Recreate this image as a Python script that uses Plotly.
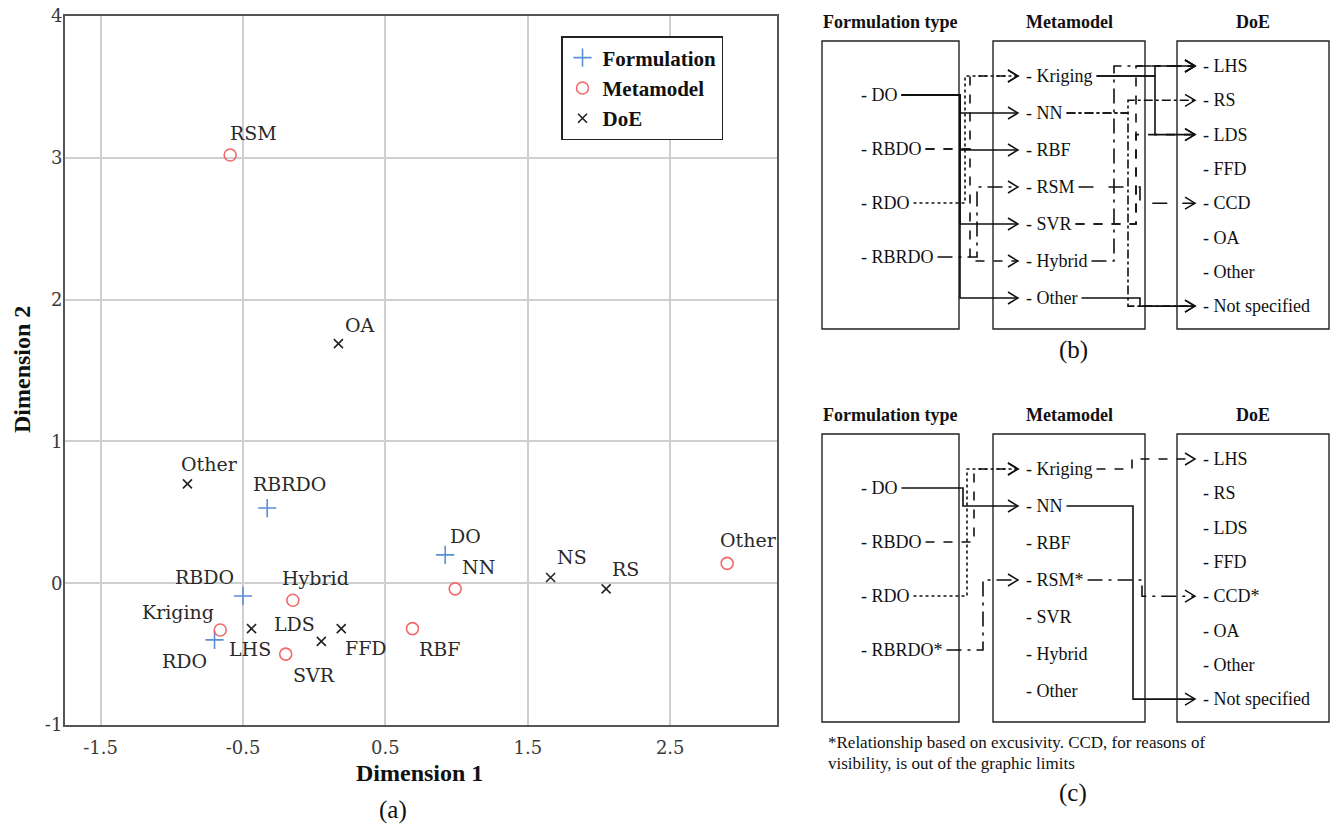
import plotly.graph_objects as go

W, H = 1330, 824

# ---------------- (a) correspondence map data ----------------
FORM_NAMES = ["DO", "RBDO", "RDO", "RBRDO"]
FORM_DIM1 = [0.92, -0.50, -0.70, -0.33]
FORM_DIM2 = [0.20, -0.09, -0.40, 0.53]

META_NAMES = ["Kriging", "NN", "RBF", "RSM", "SVR", "Hybrid", "Other"]
META_DIM1 = [-0.66, 0.99, 0.69, -0.59, -0.20, -0.15, 2.90]
META_DIM2 = [-0.33, -0.04, -0.32, 3.02, -0.50, -0.12, 0.14]

DOE_NAMES = ["LHS", "RS", "LDS", "FFD", "OA", "Other", "NS"]
DOE_DIM1 = [-0.44, 2.05, 0.05, 0.19, 0.17, -0.89, 1.66]
DOE_DIM2 = [-0.32, -0.04, -0.41, -0.32, 1.69, 0.70, 0.04]

X_TICKS = [-1.5, -0.5, 0.5, 1.5, 2.5]
Y_TICKS = [-1, 0, 1, 2, 3, 4]

# ---------------- (b) / (c) relationship diagrams ----------------
DIAG_FORMULATION = ["DO", "RBDO", "RDO", "RBRDO"]
DIAG_METAMODEL = ["Kriging", "NN", "RBF", "RSM", "SVR", "Hybrid", "Other"]
DIAG_DOE = ["LHS", "RS", "LDS", "FFD", "CCD", "OA", "Other", "Not specified"]

LINKS_B_FM = [("DO", "NN", "solid"), ("DO", "RBF", "solid"), ("DO", "SVR", "solid"),
              ("DO", "Other", "solid"), ("RBDO", "Kriging", "dash"),
              ("RBDO", "Hybrid", "dash"), ("RDO", "Kriging", "dot"),
              ("RBRDO", "RSM", "longdashdot")]
LINKS_B_MD = [("Kriging", "LHS", "solid"), ("Kriging", "LDS", "solid"),
              ("NN", "RS", "dashdot"), ("NN", "Not specified", "dashdot"),
              ("Hybrid", "LHS", "longdashdot"), ("SVR", "LHS", "dash"),
              ("SVR", "LDS", "dash"), ("RSM", "CCD", "longdash"),
              ("Other", "Not specified", "solid")]

LINKS_C_FM = [("DO", "NN", "solid"), ("RBDO", "Kriging", "dash"),
              ("RDO", "Kriging", "dot"), ("RBRDO", "RSM", "longdashdot")]
LINKS_C_MD = [("Kriging", "LHS", "dash"), ("NN", "Not specified", "solid"),
              ("RSM", "CCD", "longdashdot")]
STARRED_C = {"RBRDO", "RSM", "CCD"}

FOOTNOTE_C = ["*Relationship based on excusivity. CCD, for reasons of",
              "visibility, is out of the graphic limits"]

# ---------------- styling ----------------
BLUE = "#5a8fd6"
RED = "#f06a6a"
DARK = "#222222"
SERIF_LBL = "DejaVu Serif"
SERIF = "Liberation Serif"

# label placement around each point (pixels: right, down)
LABEL_SHIFT = {
    ("F", "DO"): (20, -19), ("F", "RBDO"): (-39, -19), ("F", "RDO"): (-30, 21),
    ("F", "RBRDO"): (22, -24),
    ("M", "Kriging"): (-42, -18), ("M", "NN"): (23, -22), ("M", "RBF"): (27, 20),
    ("M", "RSM"): (23, -22), ("M", "SVR"): (28, 21), ("M", "Hybrid"): (23, -22),
    ("M", "Other"): (21, -23),
    ("D", "LHS"): (-2, 20), ("D", "RS"): (19, -20), ("D", "LDS"): (-27, -17),
    ("D", "FFD"): (25, 19), ("D", "OA"): (22, -19), ("D", "Other"): (22, -20),
    ("D", "NS"): (21, -21),
}


def px(x):
    return x / W


def py(y):
    return 1 - y / H


def note(x, y, text, size, family=SERIF, xanchor="center", angle=0, color="#111"):
    return dict(x=px(x), y=py(y), xref="paper", yref="paper", text=text,
                showarrow=False, xanchor=xanchor, yanchor="middle", textangle=angle,
                font=dict(family=family, size=size, color=color))


fig = go.Figure()

fig.add_trace(go.Scatter(
    x=FORM_DIM1, y=FORM_DIM2, mode="markers", name="<b>Formulation</b>",
    marker=dict(symbol="cross-thin-open", size=13, color=BLUE,
                line=dict(color=BLUE, width=1.6))))
fig.add_trace(go.Scatter(
    x=META_DIM1, y=META_DIM2, mode="markers", name="<b>Metamodel</b>",
    marker=dict(symbol="circle-open", size=12, color=RED,
                line=dict(color=RED, width=1.6))))
fig.add_trace(go.Scatter(
    x=DOE_DIM1, y=DOE_DIM2, mode="markers", name="<b>DoE</b>",
    marker=dict(symbol="x-thin-open", size=9, color=DARK,
                line=dict(color=DARK, width=1.6))))

annotations = []
for grp, names, xs, ys in (("F", FORM_NAMES, FORM_DIM1, FORM_DIM2),
                           ("M", META_NAMES, META_DIM1, META_DIM2),
                           ("D", DOE_NAMES, DOE_DIM1, DOE_DIM2)):
    for n, xv, yv in zip(names, xs, ys):
        dx, dy = LABEL_SHIFT[(grp, n)]
        annotations.append(dict(
            x=xv, y=yv, xref="x", yref="y", text=n, showarrow=False,
            xshift=dx, yshift=-dy, xanchor="center", yanchor="middle",
            font=dict(family=SERIF_LBL, size=19, color="#2a2a2a")))

# axis titles and panel tag
annotations += [
    note(419, 773, "<b>Dimension 1</b>", 24),
    note(22, 370, "<b>Dimension 2</b>", 24, angle=-90),
    note(393, 810, "(a)", 25),
]

shapes = []

# ---------------- diagram helpers ----------------
CHAR_W = {'-': .333, ' ': .25, 'D': .722, 'O': .722, 'R': .667, 'B': .667, 'K': .722,
          'r': .333, 'i': .278, 'g': .5, 'n': .5, 'N': .722, 'F': .556, 'S': .556,
          'M': .889, 'V': .722, 'H': .722, 'y': .5, 'b': .5, 'd': .5, 't': .278,
          'h': .5, 'e': .444, '*': .5, 'L': .611, 'C': .667, 'A': .722, 'E': .611,
          'o': .5, 'p': .5, 's': .389, 'c': .444, 'f': .333}
ITEM_SIZE = 18


def text_w(s, size=ITEM_SIZE):
    return sum(CHAR_W.get(c, 0.5) for c in s) * size


BOX_X = {"F": (822, 959), "M": (993, 1145), "D": (1177, 1329)}
TEXT_X = {"F": 859, "M": 1024, "D": 1201}
BOX_H = 288


def item_y(col, idx, top):
    if col == "F":
        return top + 54 + 54 * idx
    if col == "M":
        return top + 35 + 37 * idx
    return top + 25 + 34.3 * idx


def poly(points, dash, width=1.6):
    d = "M " + " L ".join(f"{px(x):.5f},{py(y):.5f}" for x, y in points)
    shapes.append(dict(type="path", path=d, xref="paper", yref="paper",
                       line=dict(color="#111", width=width, dash=dash)))


def chevron(xt, yt):
    poly([(xt - 10, yt - 6), (xt, yt), (xt - 10, yt + 6)], "solid", 1.5)


def draw_panel(top, tag, tag_y, links_fm, links_md, bus_fm, bus_md, starred=()):
    cols = {"F": DIAG_FORMULATION, "M": DIAG_METAMODEL, "D": DIAG_DOE}
    heads = {"F": "Formulation type", "M": "Metamodel", "D": "DoE"}
    label = {}
    ypos = {}
    for c, items in cols.items():
        x0, x1 = BOX_X[c]
        shapes.append(dict(type="rect", xref="paper", yref="paper",
                           x0=px(x0), x1=px(x1), y0=py(top), y1=py(top + BOX_H),
                           line=dict(color="#222", width=1.4)))
        annotations.append(note((x0 + x1) / 2, top - 19, f"<b>{heads[c]}</b>", 18))
        for i, it in enumerate(items):
            txt = "- " + it + ("*" if it in starred else "")
            yv = item_y(c, i, top)
            label[(c, it)] = txt
            ypos[(c, it)] = yv
            annotations.append(note(TEXT_X[c], yv, txt, ITEM_SIZE, xanchor="left"))

    for (sc, tc, links, bus) in (("F", "M", links_fm, bus_fm), ("M", "D", links_md, bus_md)):
        for src, dst, dash in links:
            xs = TEXT_X[sc] + text_w(label[(sc, src)]) + 6
            ys = ypos[(sc, src)]
            yt = ypos[(tc, dst)]
            xb = bus[src]
            xt = TEXT_X[tc] - 6
            poly([(xs, ys), (xb, ys), (xb, yt), (xt, yt)], dash)
            chevron(xt, yt)

    annotations.append(note(1073, tag_y, tag, 25))


draw_panel(41, "(b)", 350, LINKS_B_FM, LINKS_B_MD,
           {"DO": 960, "RBDO": 970, "RDO": 965, "RBRDO": 977},
           {"Kriging": 1155, "NN": 1128, "Hybrid": 1114, "SVR": 1136,
            "RSM": 1140, "Other": 1140})
draw_panel(434, "(c)", 793, LINKS_C_FM, LINKS_C_MD,
           {"DO": 963, "RBDO": 974, "RDO": 967, "RBRDO": 983},
           {"Kriging": 1132, "NN": 1133, "RSM": 1142},
           starred=STARRED_C)

for i, line in enumerate(FOOTNOTE_C):
    annotations.append(note(826, 742 + 21 * i, line, 17, xanchor="left"))

axis_common = dict(showgrid=True, gridcolor="#cfcfcf", gridwidth=1.5, zeroline=False,
                   showline=True, mirror=True, linecolor="#555", linewidth=2,
                   ticks="", ticklen=0, automargin=False,
                   tickfont=dict(family=SERIF_LBL, size=18, color="#3a3a3a"))

fig.update_layout(
    width=W, height=H, margin=dict(l=0, r=0, t=0, b=0, autoexpand=False),
    paper_bgcolor="white", plot_bgcolor="white",
    xaxis=dict(domain=[65 / W, 777 / W], range=[-1.75, 3.25], tickvals=X_TICKS,
               ticktext=[str(v) for v in X_TICKS], ticklabelstandoff=5, **axis_common),
    yaxis=dict(domain=[1 - 725 / H, 1 - 16 / H], range=[-1, 4], tickvals=Y_TICKS,
               ticktext=[str(v) for v in Y_TICKS], ticklabelstandoff=-3, **axis_common),
    showlegend=True,
    legend=dict(x=px(561), y=py(36), xanchor="left", yanchor="top",
                bgcolor="white", bordercolor="#222", borderwidth=1.5,
                font=dict(family=SERIF, size=21, color="#111"),
                tracegroupgap=0, itemwidth=30),
    shapes=shapes, annotations=annotations,
)

fig.write_html("out.html")
